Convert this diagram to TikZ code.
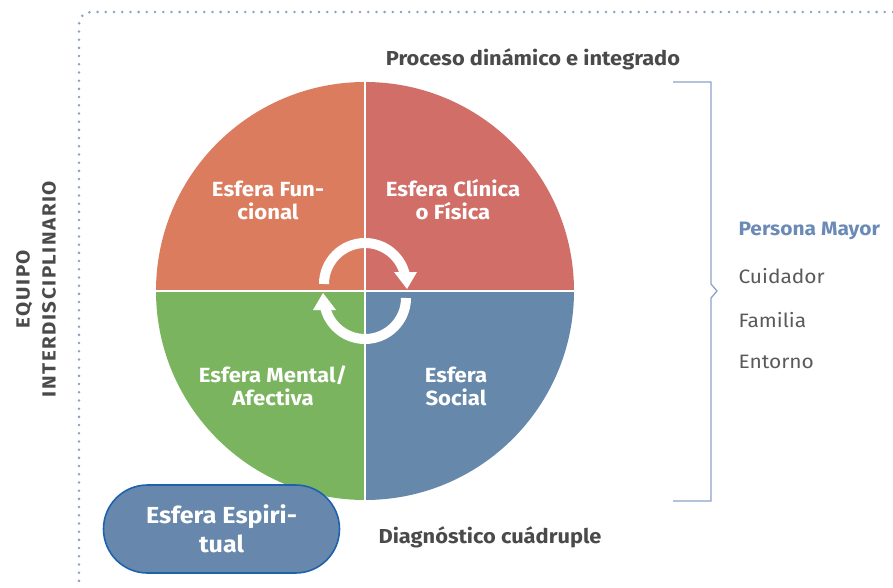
\documentclass[tikz,border=0pt]{standalone}
\usepackage{fontspec}
\setmainfont{Fira Sans}
\newfontfamily\widefont[FakeStretch=1.08]{Fira Sans}
\newfontfamily\spacedfont[FakeStretch=1.08, LetterSpace=8]{Fira Sans}
\usetikzlibrary{arrows.meta}
\definecolor{cFunc}{HTML}{DC7C5E}
\definecolor{cClin}{HTML}{D16E68}
\definecolor{cMent}{HTML}{7BB45E}
\definecolor{cSoc}{HTML}{6688AB}
\definecolor{cSpir}{HTML}{6788AC}
\definecolor{cSpirB}{HTML}{1E62AC}
\definecolor{cBrace}{HTML}{8CA3C8}
\definecolor{cDot}{HTML}{8C9FC4}
\definecolor{cPM}{HTML}{6B8AB6}
\definecolor{cHead}{HTML}{4A4A4A}
\definecolor{cList}{HTML}{5A5A5A}
\tikzset{
  quadlabel/.style={text=white, font=\widefont\fontsize{20.5}{23}\selectfont\bfseries, align=center},
  headlabel/.style={text=cHead, font=\widefont\fontsize{20.2}{22}\selectfont\bfseries},
  listlabel/.style={text=cList, font=\widefont\fontsize{19.4}{22}\selectfont, anchor=west},
  ringarrow/.style={draw=white, line width=10pt},
}
\begin{document}
\begin{tikzpicture}[x=1pt,y=-1pt]
\useasboundingbox (0,0) rectangle (893,588);
% dotted frame
\draw[cDot, line width=2.8pt, line cap=round, dash pattern=on 0pt off 8.2pt, rounded corners=12pt]
  (893,12) -- (79,12) -- (79,588);
% quadrants
\coordinate (C) at (365,291);
\fill[cFunc] (C) -- +(180:209) arc[start angle=180, end angle=270, radius=209] -- cycle;
\fill[cClin] (C) -- +(270:209) arc[start angle=270, end angle=360, radius=209] -- cycle;
\fill[cSoc]  (C) -- +(0:209) arc[start angle=0, end angle=90, radius=209] -- cycle;
\fill[cMent] (C) -- +(90:209) arc[start angle=90, end angle=180, radius=209] -- cycle;
\draw[white, line width=2.4pt] (156,291) -- (574,291);
\draw[white, line width=2.4pt] (365,82) -- (365,500);
% circular arrows
\draw[ringarrow] (365,284) ++(180:41) arc[start angle=180, end angle=345, radius=41];
\fill[white] (394,272) -- (417,272) -- (407,289) -- cycle;
\draw[ringarrow] (365,298) ++(0:41) arc[start angle=0, end angle=165, radius=41];
\fill[white] (336,310) -- (313,310) -- (323,293) -- cycle;
% quadrant labels
\node[quadlabel] (func) at (268,200) {Esfera Fun-\\cional};
\node[quadlabel] (clin) at (453,200) {Esfera Clínica\\o Física};
\node[quadlabel] (ment) at (273,386) {Esfera Mental/\\Afectiva};
\node[quadlabel] (soc)  at (456,386) {Esfera\\Social};
% headings
\node[headlabel] (proc) at (533,59) {Proceso dinámico e integrado};
\node[headlabel] (diag) at (490,537) {Diagnóstico cuádruple};
\node[text=cHead, font=\spacedfont\fontsize{19}{26}\selectfont\bfseries, align=center, rotate=90] (equipo) at (36,289) {EQUIPO\\INTERDISCIPLINARIO};
% espiritual
\node[draw=cSpirB, line width=1.6pt, fill=cSpir, rounded corners=44pt, minimum width=236pt, minimum height=88pt,
      text=white, font=\widefont\fontsize{23.2}{29}\selectfont\bfseries, align=center] (espi) at (221.5,529) {Esfera Espiri-\\tual};
% bracket
\draw[cBrace, line width=1.3pt] (673,82) -- (711,82) -- (711,284) -- (717,291) -- (711,298) -- (711,501) -- (673,501);
% list
\node[listlabel, text=cPM, font=\widefont\fontsize{19.4}{22}\selectfont\bfseries] (pm) at (735,231) {Persona Mayor};
\node[listlabel] (cuid) at (735,276) {Cuidador};
\node[listlabel] (fam)  at (735,320) {Familia};
\node[listlabel] (ent)  at (735,362) {Entorno};
\end{tikzpicture}
\end{document}
